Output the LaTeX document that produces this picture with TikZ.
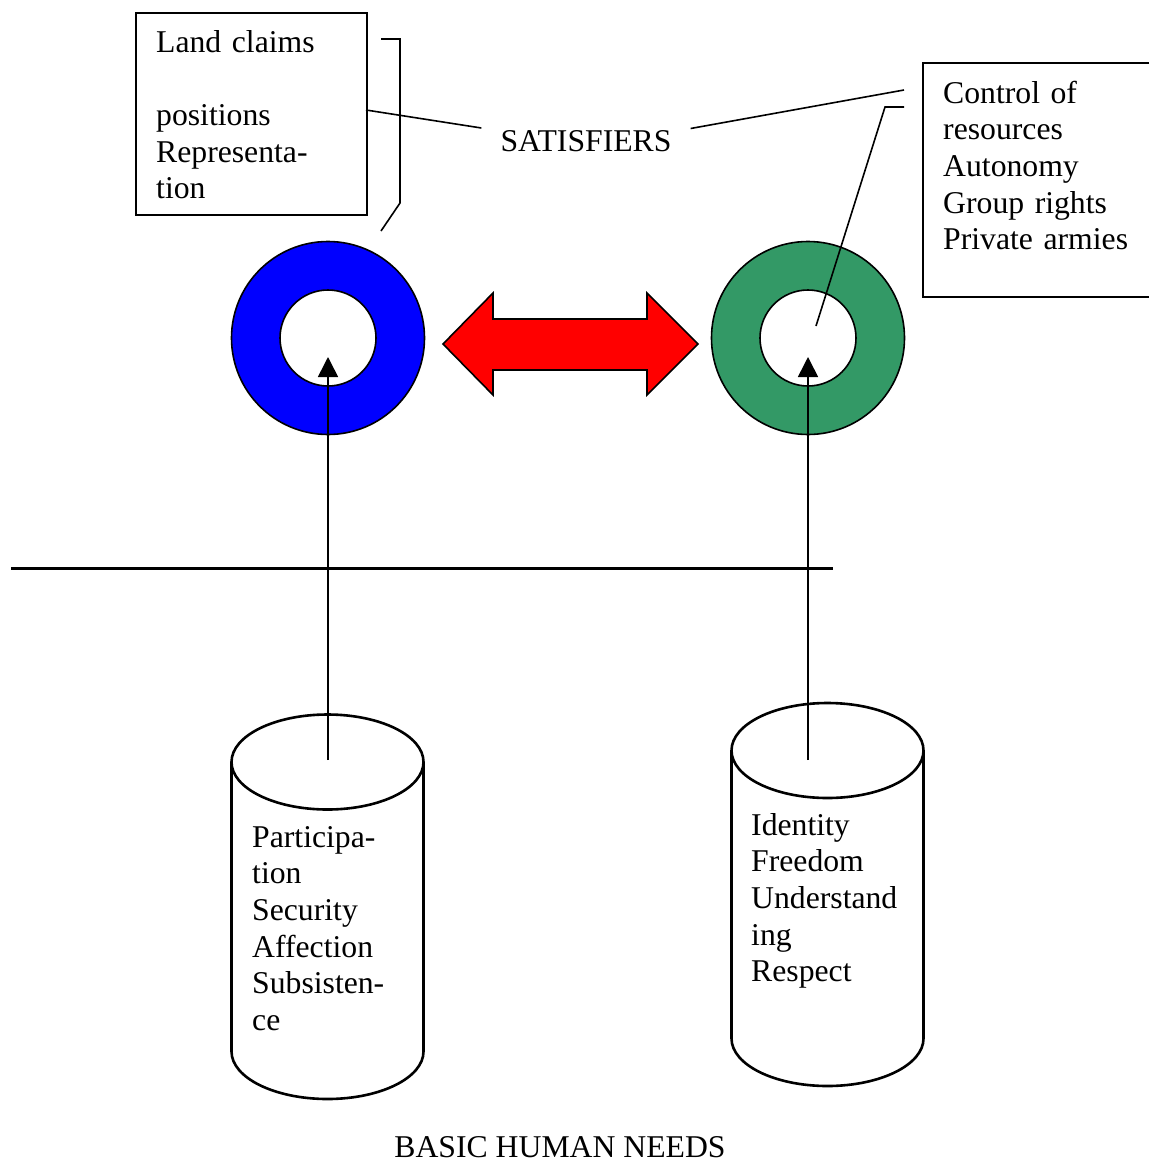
\documentclass[tikz,border=0pt]{standalone}
\usepackage{fontspec}
\setmainfont{Liberation Serif}
\usetikzlibrary{arrows.meta}
\definecolor{ringblue}{RGB}{0,0,255}
\definecolor{ringgreen}{RGB}{51,153,102}
\definecolor{arrowred}{RGB}{255,0,0}
% cylinder drawn upright: #1 centre x, #2 top-ellipse centre y, #3 bottom-ellipse centre y
\newcommand\drumcyl[3]{%
  \draw[cyl] ({#1-96},#2) -- ({#1-96},#3)
    .. controls ({#1-96},{#3+26.2}) and ({#1-53},{#3+47.5}) .. (#1,{#3+47.5})
    .. controls ({#1+53},{#3+47.5}) and ({#1+96},{#3+26.2}) .. ({#1+96},#3)
    -- ({#1+96},#2);
  \draw[cyl] (#1,#2) ellipse[x radius=96pt, y radius=47.5pt];
}
\begin{document}
\begin{tikzpicture}[x=1pt,y=-1pt,
  txt/.style={font=\fontsize{31.7}{36.7}\selectfont, inner sep=0pt},
  listtext/.style={txt, text width=300pt, align=left, anchor=base west},
  thin/.style={line width=1.6pt},
  cyl/.style={line width=2.6pt},
  ring/.style={draw=black, line width=1.6pt, even odd rule},
  uparrow/.style={thin, -{Triangle[length=20pt,width=20pt]}}]
\useasboundingbox (0,0) rectangle (1149,1162);

% satisfier boxes
\node[draw, thin, minimum width=231pt, minimum height=202pt, inner sep=0pt,
      anchor=north west] (landbox) at (135,12) {};
\node[listtext] (landtext) at (156,52)
  {Land claims\\\mbox{}\\positions\\Representa-\\tion};
\draw[thin] (1149,63) -- (923,63) -- (923,297) -- (1149,297);
\node[listtext] (restext) at (943,103)
  {Control of\\resources\\Autonomy\\Group rights\\Private armies};

% central label and its links
\node[txt, inner xsep=19pt] (sat) at (586,141.5) {SATISFIERS};
\coordinate (landlink) at (366,110);
\coordinate (reslink) at (904,90);
\draw[thin] (landlink) -- ([yshift=13.5pt]sat.west);
\draw[thin] ([yshift=13pt]sat.east) -- (reslink);

% rings
\coordinate (ringL) at (328,338);
\coordinate (ringR) at (808,338);
\path[ring, fill=ringblue] (ringL) circle[radius=96.5pt] (ringL) circle[radius=48pt];
\path[ring, fill=ringgreen] (ringR) circle[radius=96.5pt] (ringR) circle[radius=48pt];

% brackets
\draw[thin] (381,39) -- (400,39) -- (400,203) -- (381,231);
\coordinate (resbracket) at (816,326);
\draw[thin] (904,107) -- (885,107) -- (resbracket);

% double arrow between the rings
\filldraw[fill=arrowred, draw=black, line width=1.6pt, line join=miter]
  (443,344) -- (493,293) -- (493,319) -- (647,319) -- (647,293) -- (698,344)
  -- (647,395) -- (647,370) -- (493,370) -- (493,395) -- cycle;

% dividing line
\draw[line width=3.8pt] (11,568.5) -- (833,568.5);

% needs cylinders
\drumcyl{327.5}{762}{1051.5}
\drumcyl{827.5}{750.5}{1038.5}
\node[listtext] (leftneeds) at (252,847)
  {Participa-\\tion\\Security\\Affection\\Subsisten-\\ce};
\node[listtext] (rightneeds) at (751,835)
  {Identity\\Freedom\\Understand\\ing\\Respect};

% needs feeding satisfiers
\coordinate (needsL) at (328,760);
\coordinate (needsR) at (808,760);
\draw[uparrow] (needsL) -- ([yshift=-19pt]ringL);
\draw[uparrow] (needsR) -- ([yshift=-19pt]ringR);

\node[txt, anchor=base] (needs) at (560,1157) {BASIC HUMAN NEEDS};
\end{tikzpicture}
\end{document}
